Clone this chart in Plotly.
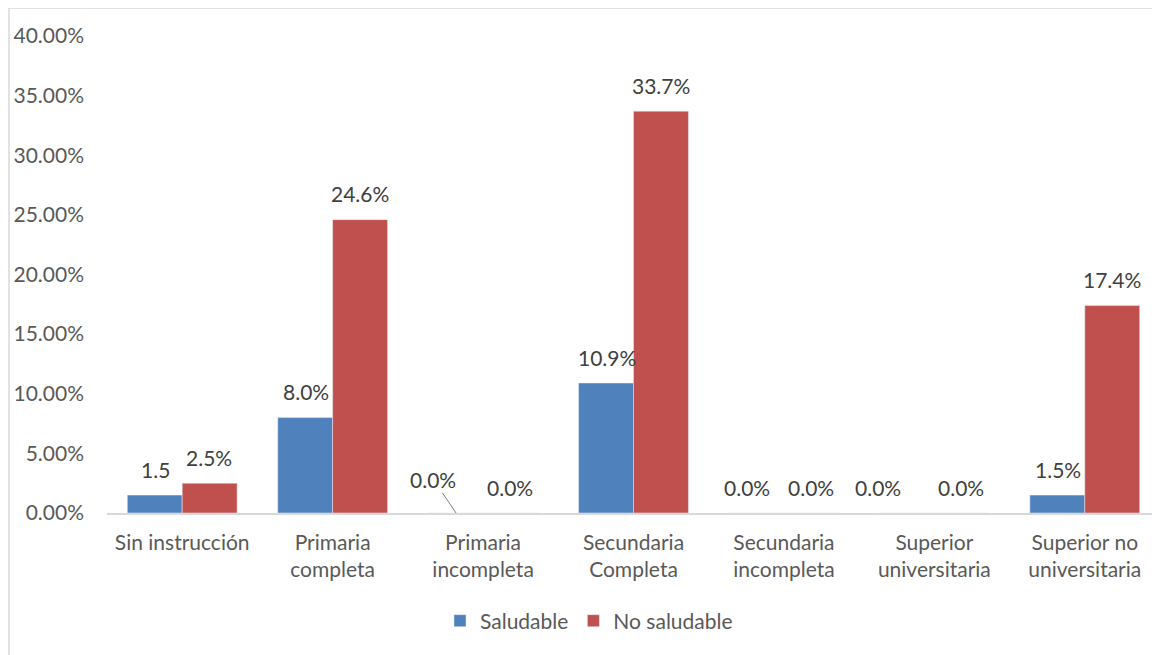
import plotly.graph_objects as go

categories = ["Sin instrucción", "Primaria<br>completa", "Primaria<br>incompleta",
              "Secundaria<br>Completa", "Secundaria<br>incompleta",
              "Superior<br>universitaria", "Superior no<br>universitaria"]
saludable = [1.5, 8.0, 0.0, 10.9, 0.0, 0.0, 1.5]
no_saludable = [2.5, 24.6, 0.0, 33.7, 0.0, 0.0, 17.4]
saludable_labels = ["1.5", "8.0%", "0.0%", "10.9%", "0.0%", "0.0%", "1.5%"]
no_saludable_labels = ["2.5%", "24.6%", "0.0%", "33.7%", "0.0%", "0.0%", "17.4%"]
y_ticks = [0, 5, 10, 15, 20, 25, 30, 35, 40]
y_tick_text = [f"{v:.2f}%" for v in y_ticks]

BLUE = "#4F81BD"
RED = "#C0504D"
FONT = "Lato"
FS = 21

W, H = 1152, 647
L, R, T, B = 99, 0, 28, 142
PW, PH = W - L - R, H - T - B

fig = go.Figure()
fig.add_trace(go.Bar(x=categories, y=saludable, name="Saludable", marker_color=BLUE))
fig.add_trace(go.Bar(x=categories, y=no_saludable, name="No saludable", marker_color=RED))

# per-label pixel tweaks (style only)
blue_xshift = [-27, -27, -27, -27, -37, -56, -27]
red_xshift = [27, 27, 27, 27, 27, 27, 27]
lab_font = dict(family=FONT, size=FS, color="#404040")

annotations = []
for i, c in enumerate(categories):
    if i == 2:
        annotations.append(dict(x=c, y=saludable[i], text=saludable_labels[i],
                                xshift=-27, showarrow=True, arrowhead=0, arrowwidth=1,
                                arrowcolor="#7f7f7f", ax=-23, ay=-34, standoff=0,
                                font=lab_font))
    else:
        annotations.append(dict(x=c, y=saludable[i], text=saludable_labels[i],
                                xshift=blue_xshift[i], yshift=26, showarrow=False,
                                font=lab_font))
    annotations.append(dict(x=c, y=no_saludable[i], text=no_saludable_labels[i],
                            xshift=red_xshift[i], yshift=26, showarrow=False,
                            font=lab_font))

fig.update_layout(
    width=W, height=H,
    margin=dict(l=L, r=R, t=T, b=B),
    paper_bgcolor="white", plot_bgcolor="white",
    barmode="group", bargap=0.27, bargroupgap=0,
    font=dict(family=FONT, size=FS, color="#595959"),
    showlegend=True,
    legend=dict(orientation="h", x=(581 - L) / PW, xanchor="center",
                y=-(613 - (T + PH)) / PH, yanchor="middle",
                font=dict(family=FONT, size=FS, color="#595959"),
                traceorder="normal"),
    annotations=annotations,
    shapes=[dict(type="rect", xref="paper", yref="paper",
                 x0=(1 - L) / PW, x1=1.05, y0=-0.4, y1=(T + PH - 0) / PH,
                 line=dict(color="#d9d9d9", width=1.5), layer="below")],
)
fig.update_xaxes(showline=True, linecolor="#d9d9d9", linewidth=1.5, ticks="",
                 tickfont=dict(family=FONT, size=FS, color="#595959"), showgrid=False,
                 ticklabelstandoff=10)
fig.update_yaxes(range=[0, 40], tickmode="array", tickvals=y_ticks, ticktext=y_tick_text,
                 showgrid=False, zeroline=False, showline=False, ticks="",
                 tickfont=dict(family=FONT, size=FS, color="#595959"), ticklabelstandoff=22)

fig.write_html("out.html")
